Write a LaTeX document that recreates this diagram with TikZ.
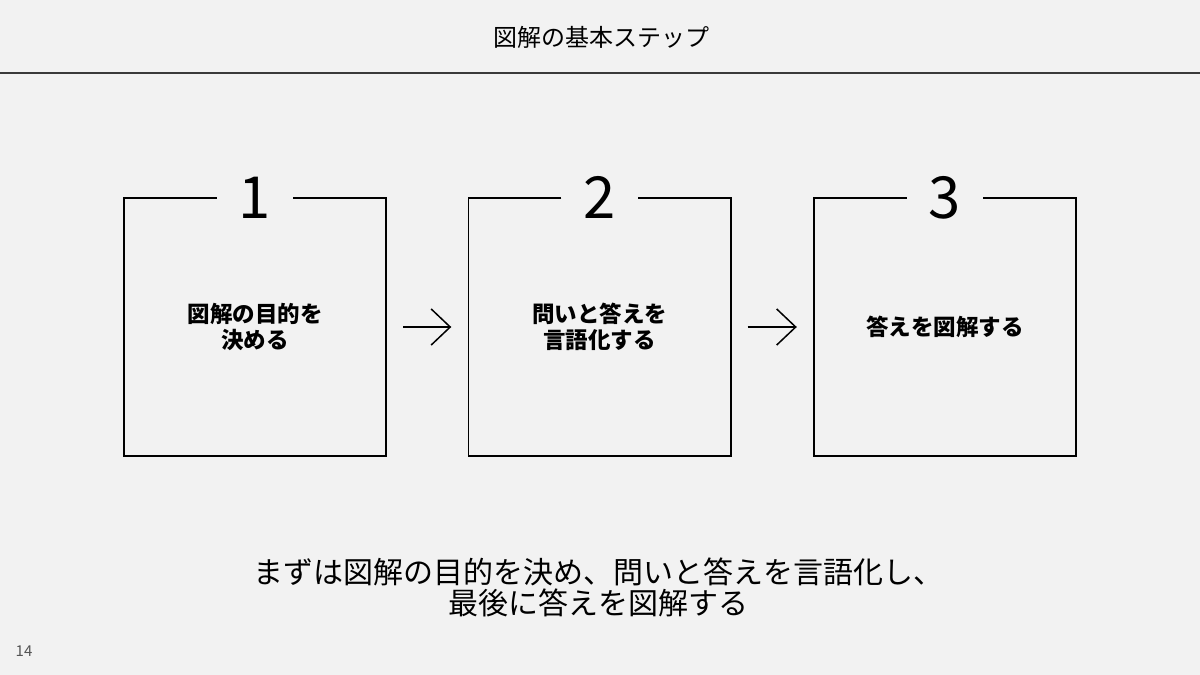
\documentclass[tikz,border=0pt]{standalone}
\usepackage{fontspec}
\setmainfont{Noto Sans CJK JP}
\usetikzlibrary{arrows.meta}
\definecolor{bgcol}{HTML}{F2F2F2}
\definecolor{rulecol}{HTML}{3A3A3A}
\definecolor{pagecol}{HTML}{555555}
\tikzset{
  stepbox/.style={minimum width=262pt, minimum height=258pt, inner sep=0pt},
  stepnum/.style={font=\fontsize{58}{58}\selectfont, minimum width=76pt, inner sep=0pt},
  steplabel/.style={font=\bfseries\fontsize{22.5}{26}\selectfont, align=center},
  flowarrow/.style={line width=1.5pt, -{Straight Barb[length=19pt,width=36pt,line width=1.5pt]}, shorten <=17pt, shorten >=17pt},
}
\begin{document}
\begin{tikzpicture}[x=1pt, y=-1pt]
    % Background and frame
    \useasboundingbox (0,0) rectangle (1200,675);
    \fill[bgcol] (0,0) rectangle (1200,675);

    % Title with rule
    \node[font=\fontsize{24}{28}\selectfont] (title) at (601,37) {図解の基本ステップ};
    \draw[rulecol, line width=1.6pt] (0,73) -- (1200,73);

    % Step boxes
    \node[stepbox] (box1) at (255,327) {};
    \node[stepbox] (box2) at (599.5,327) {};
    \node[stepbox] (box3) at (945,327) {};

    % Numbers sitting in the top edge
    \node[stepnum] (num1) at (box1.north) {1};
    \node[stepnum] (num2) at (box2.north) {2};
    \node[stepnum] (num3) at (box3.north) {3};

    % Borders with a gap for the number
    \foreach \i in {1,2,3} {
        \draw[line width=1.6pt] (num\i.west |- box\i.north) -- (box\i.north west)
            -- (box\i.south west) -- (box\i.south east) -- (box\i.north east)
            -- (num\i.east |- box\i.north);
    }

    % Labels
    \node[steplabel] (lab1) at (box1.center) {図解の目的を\\決める};
    \node[steplabel] (lab2) at (box2.center) {問いと答えを\\言語化する};
    \node[steplabel] (lab3) at (box3.center) {答えを図解する};

    % Arrows between steps
    \draw[flowarrow] (box1.east) -- (box2.west);
    \draw[flowarrow] (box2.east) -- (box3.west);

    % Summary
    \node[font=\fontsize{30}{31}\selectfont, align=center] (summary) at (598,587)
        {まずは図解の目的を決め、問いと答えを言語化し、\\最後に答えを図解する};

    % Page number
    \node[pagecol, font=\fontsize{15}{17}\selectfont] (page) at (24,651) {14};
\end{tikzpicture}
\end{document}
